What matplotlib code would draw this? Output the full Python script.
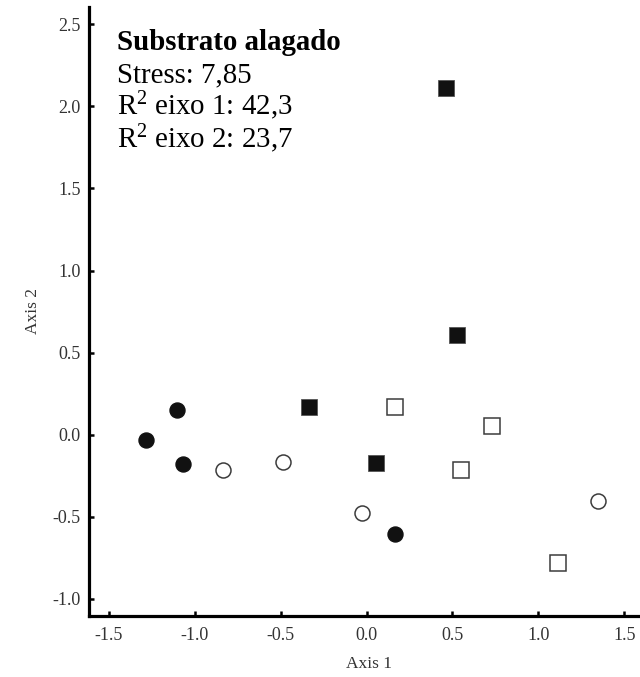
import matplotlib
matplotlib.use("Agg")
import matplotlib.pyplot as plt

# NMDS scores (Axis 1, Axis 2)
filled_circle_x = [-1.105, -1.285, -1.070, 0.163]
filled_circle_y = [0.150, -0.034, -0.180, -0.607]

open_circle_x = [-0.835, -0.486, -0.026, 1.349]
open_circle_y = [-0.215, -0.168, -0.475, -0.402]

filled_square_x = [-0.334, 0.054, 0.460, 0.528]
filled_square_y = [0.167, -0.172, 2.111, 0.607]

open_square_x = [0.163, 0.549, 0.728, 1.114]
open_square_y = [0.167, -0.213, 0.055, -0.783]

x_ticks = [-1.5, -1.0, -0.5, 0.0, 0.5, 1.0, 1.5]
y_ticks = [-1.0, -0.5, 0.0, 0.5, 1.0, 1.5, 2.0, 2.5]

title = "Substrato alagado"
info_lines = ["Stress: 7,85",
              r"R$^{2}$ eixo 1: 42,3",
              r"R$^{2}$ eixo 2: 23,7"]

plt.rcParams["font.family"] = ["Liberation Serif", "DejaVu Serif"]
plt.rcParams["mathtext.fontset"] = "custom"
plt.rcParams["mathtext.rm"] = "Liberation Serif"
plt.rcParams["mathtext.it"] = "Liberation Serif:italic"

fig = plt.figure(figsize=(6.4, 6.77), dpi=100)
ax = fig.add_axes([0.139, 0.0901, 0.861, 0.8996])

dark = "#111111"
edge = "#3c3c3c"
ax.plot(filled_circle_x, filled_circle_y, "o", ms=10.8, color=dark,
        mec=dark, ls="none")
ax.plot(open_circle_x, open_circle_y, "o", ms=10.8, mfc="white",
        mec=edge, mew=1.1, ls="none")
ax.plot(filled_square_x, filled_square_y, "s", ms=11.3, color=dark,
        mec="#555555", mew=0.6, ls="none")
ax.plot(open_square_x, open_square_y, "s", ms=11.3, mfc="white",
        mec=edge, mew=1.1, ls="none")

ax.set_xlim(-1.617, 1.592)
ax.set_ylim(-1.104, 2.605)
ax.set_xticks(x_ticks)
ax.set_yticks(y_ticks)
ax.set_xticklabels(["%.1f" % v for v in x_ticks])
ax.set_yticklabels(["%.1f" % v for v in y_ticks])

for side in ["top", "right"]:
    ax.spines[side].set_visible(False)
for side in ["left", "bottom"]:
    ax.spines[side].set_linewidth(2.3)
    ax.spines[side].set_color("black")

ax.tick_params(direction="in", length=3.5, width=1.8, labelsize=13,
               labelcolor="#333333")
ax.tick_params(axis="x", pad=8)
ax.tick_params(axis="y", pad=6)
ax.set_xlabel("Axis 1", fontsize=12.5, color="#333333", va="center")
ax.set_ylabel("Axis 2", fontsize=12.5, color="#333333", va="center")
ax.xaxis.set_label_coords(0.508, -0.079)
ax.yaxis.set_label_coords(-0.102, 0.5)

fig.text(0.1828, 0.9261, title, fontsize=20.8, fontweight="bold",
         ha="left", va="baseline")
for i, line in enumerate(info_lines):
    fig.text(0.1828, 0.8789 - i * 0.0488, line, fontsize=20.8,
             ha="left", va="baseline")

fig.savefig("out.png", dpi=100)
